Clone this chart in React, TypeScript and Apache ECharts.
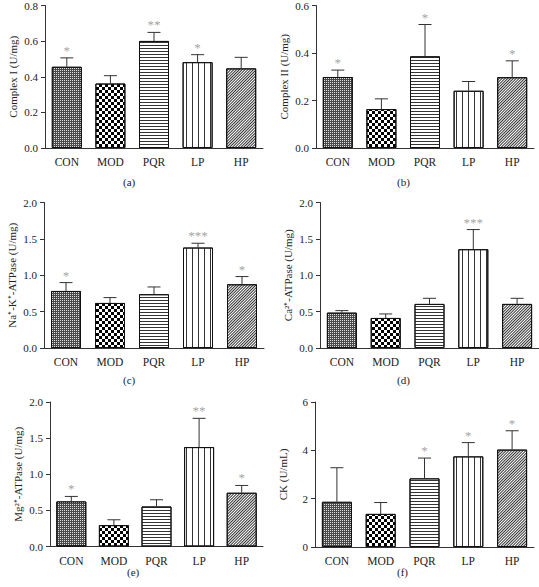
import React, { useEffect, useRef } from "react";
import * as echarts from "echarts";

const categories = ["CON", "MOD", "PQR", "LP", "HP"];

const complexIMean = [0.456, 0.362, 0.601, 0.482, 0.447];
const complexIErr = [0.05, 0.044, 0.048, 0.042, 0.062];
const complexISig = ["*", "", "**", "*", ""];

const complexIIMean = [0.299, 0.164, 0.386, 0.241, 0.298];
const complexIIErr = [0.029, 0.043, 0.134, 0.039, 0.069];
const complexIISig = ["*", "", "*", "", "*"];

const naKMean = [0.784, 0.619, 0.739, 1.381, 0.876];
const naKErr = [0.115, 0.074, 0.1, 0.059, 0.106];
const naKSig = ["*", "", "", "***", "*"];

const caMean = [0.486, 0.413, 0.606, 1.358, 0.606];
const caErr = [0.028, 0.055, 0.077, 0.27, 0.077];
const caSig = ["", "", "", "***", ""];

const mgMean = [0.624, 0.296, 0.554, 1.376, 0.744];
const mgErr = [0.069, 0.074, 0.093, 0.398, 0.101];
const mgSig = ["*", "", "", "**", "*"];

const ckMean = [1.87, 1.37, 2.84, 3.75, 4.03];
const ckErr = [1.41, 0.47, 0.84, 0.57, 0.78];
const ckSig = ["", "", "*", "*", "*"];

const FONT = "Liberation Serif";

const panels = [
  { key: "a", name: "Complex I (U/mg)", mean: complexIMean, err: complexIErr, sig: complexISig, max: 0.8, interval: 0.2, dec: 1,
    left: 45, top: 3.5, width: 218, height: 144.5, lx: 131, ly: 183 },
  { key: "b", name: "Complex II (U/mg)", mean: complexIIMean, err: complexIIErr, sig: complexIISig, max: 0.6, interval: 0.2, dec: 1,
    left: 316, top: 3.5, width: 218, height: 144.5, lx: 405, ly: 183 },
  { key: "c", name: "Na\u207A-K\u207A-ATPase (U/mg)", mean: naKMean, err: naKErr, sig: naKSig, max: 2.0, interval: 0.5, dec: 1,
    left: 44, top: 202.5, width: 220, height: 145.5, lx: 131, ly: 381 },
  { key: "d", name: "Ca\u00B2\u207A-ATPase (U/mg)", mean: caMean, err: caErr, sig: caSig, max: 2.0, interval: 0.5, dec: 1,
    left: 320, top: 202.5, width: 219, height: 145.5, lx: 405, ly: 381 },
  { key: "e", name: "Mg\u00B2\u207A-ATPase (U/mg)", mean: mgMean, err: mgErr, sig: mgSig, max: 2.0, interval: 0.5, dec: 1,
    left: 50, top: 402, width: 213, height: 144.5, lx: 135, ly: 573 },
  { key: "f", name: "CK (U/mL)", mean: ckMean, err: ckErr, sig: ckSig, max: 6, interval: 2, dec: 0,
    left: 315, top: 402, width: 219, height: 145, lx: 405, ly: 573 },
];

const barFills = ["#4a4a4a", "#ffffff", "#ffffff", "#ffffff", "#ffffff"];
const decals: any[] = [
  { symbol: "rect", symbolSize: 1, dashArrayX: [1, 1], dashArrayY: [1, 1], color: "#e0e0e0" },
  { symbol: "rect", symbolSize: 1, dashArrayX: [[3, 3], [0, 3, 3, 0]], dashArrayY: [3, 0], color: "#000" },
  { symbol: "rect", symbolSize: 1, dashArrayX: [1, 0], dashArrayY: [1, 2], color: "#333" },
  { symbol: "rect", symbolSize: 1, dashArrayX: [1, 5], dashArrayY: [1, 0], color: "#333" },
  { symbol: "rect", symbolSize: 1, dashArrayX: [1, 0], dashArrayY: [1, 1], rotation: -Math.PI / 4, color: "#333" },
];

export default function App() {
  const ref = useRef<HTMLDivElement>(null);
  useEffect(() => {
    document.body.style.margin = "0";
    const chart = echarts.init(ref.current!, null, { renderer: "svg" });
    const grid: any[] = [];
    const xAxis: any[] = [];
    const yAxis: any[] = [];
    const series: any[] = [];
    const graphic: any[] = [];
    panels.forEach((p, gi) => {
      grid.push({ left: p.left, top: p.top, width: p.width, height: p.height });
      xAxis.push({
        type: "category", gridIndex: gi, data: categories,
        axisLine: { lineStyle: { color: "#333", width: 1 } },
        axisTick: { alignWithLabel: true, length: 4, lineStyle: { color: "#333" } },
        axisLabel: { fontFamily: FONT, fontSize: 11.5, color: "#222", margin: 8 },
      });
      yAxis.push({
        type: "value", gridIndex: gi, min: 0, max: p.max, interval: p.interval,
        name: p.name, nameLocation: "middle", nameGap: 27,
        nameTextStyle: { fontFamily: FONT, fontSize: 11, color: "#222" },
        axisLine: { show: true, lineStyle: { color: "#333", width: 1 } },
        axisTick: { show: true, length: 4, lineStyle: { color: "#333" } },
        splitLine: { show: false },
        axisLabel: { fontFamily: FONT, fontSize: 11, color: "#222", margin: 7,
          formatter: (v: number) => v.toFixed(p.dec) },
      });
      series.push({
        type: "bar", xAxisIndex: gi, yAxisIndex: gi, barWidth: 30,
        data: p.mean.map((v, i) => ({
          value: v,
          itemStyle: { color: barFills[i], borderColor: "#111", borderWidth: 1, decal: decals[i] },
        })),
      });
      series.push({
        type: "custom", xAxisIndex: gi, yAxisIndex: gi, z: 5,
        itemStyle: { color: "#333" },
        encode: { x: 0, y: 1 },
        data: p.mean.map((v, i) => [i, v, p.err[i]]),
        renderItem: (params: any, api: any) => {
          const i = api.value(0);
          const m = api.value(1);
          const e = api.value(2);
          const top = api.coord([i, m + e]);
          const base = api.coord([i, m]);
          return {
            type: "group",
            children: [
              { type: "line", shape: { x1: top[0], y1: base[1], x2: top[0], y2: top[1] }, style: { stroke: "#333", lineWidth: 1 } },
              { type: "line", shape: { x1: top[0] - 6.5, y1: top[1], x2: top[0] + 6.5, y2: top[1] }, style: { stroke: "#333", lineWidth: 1 } },
            ],
          };
        },
      });
      series.push({
        type: "scatter", xAxisIndex: gi, yAxisIndex: gi, z: 6,
        symbolSize: 0, silent: true,
        data: p.mean.map((v, i) => ({
          value: [i, v + p.err[i]],
          label: {
            show: !!p.sig[i], position: "top", distance: 1,
            formatter: p.sig[i] || "", color: "#8a8a8a",
            fontFamily: FONT, fontSize: 13,
          },
        })),
      });
      graphic.push({
        type: "text", left: p.lx - 8, top: p.ly - 7,
        style: { text: `(${p.key})`, fontFamily: FONT, fontSize: 11, fill: "#222" },
      });
    });
    chart.setOption({ animation: false, grid, xAxis, yAxis, series, graphic });
    return () => chart.dispose();
  }, []);
  return <div ref={ref} style={{ width: 539, height: 587, background: "#fff" }} />;
}
